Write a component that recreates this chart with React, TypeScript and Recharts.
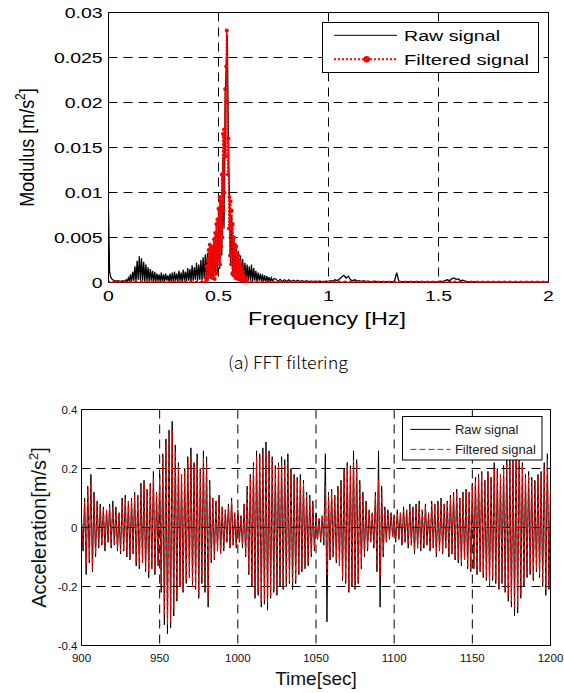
import { CartesianGrid, Legend, Line, LineChart, ReferenceArea, XAxis, YAxis } from "recharts";

// (a) FFT spectrum, modulus in 1e-3 m/s^2
// raw bins 0 .. 0.75 Hz every 0.005 Hz
const FFT_LOW_STEP = 0.005;
const rawLow = [
  8.0, 1.2, 0.6, 0.4, 0.3, 0.2, 0.15, 0.2, 0.1, 0.2,
  0.1, 0.15, 0.1, 0.2, 0.1, 0.2, 0.3, 0.1, 0.5, 0.1,
  0.9, 0.1, 1.2, 0.2, 1.8, 0.1, 2.4, 0.3, 2.9, 0.2,
  2.7, 0.2, 2.3, 0.1, 2.0, 0.2, 1.7, 0.1, 1.5, 0.2,
  1.3, 0.1, 1.2, 0.1, 1.0, 0.2, 0.9, 0.1, 1.1, 0.1,
  0.9, 0.1, 1.0, 0.2, 0.8, 0.1, 1.0, 0.1, 1.1, 0.1,
  1.2, 0.2, 1.0, 0.1, 1.3, 0.2, 1.1, 0.1, 1.4, 0.2,
  1.2, 0.1, 1.6, 0.2, 1.5, 0.1, 1.9, 0.2, 1.7, 0.3,
  2.2, 0.2, 2.0, 0.3, 2.5, 0.2, 2.8, 0.4, 3.1, 0.3,
  3.3, 0.5, 3.5, 0.4, 3.8, 0.6, 4.5, 0.8, 5.5, 1.0,
  7.0, 1.5, 9.0, 3.0, 14.0, 6.0, 20.0, 24.0, 27.5, 15.0,
  9.0, 2.0, 7.5, 1.0, 5.0, 0.8, 4.0, 0.5, 3.5, 0.4,
  3.0, 0.3, 2.6, 0.2, 2.2, 0.3, 2.0, 0.2, 1.8, 0.2,
  2.0, 0.1, 1.6, 0.2, 1.3, 0.1, 1.1, 0.2, 1.0, 0.1,
  0.9, 0.1, 0.8, 0.1, 0.7, 0.1, 0.6, 0.1, 0.5, 0.1,
  0.4,
];
// raw bins 0.76 .. 2.0 Hz every 0.01 Hz
const FFT_HIGH_START = 0.76;
const FFT_HIGH_STEP = 0.01;
const rawHigh = [
  0.4, 0.1, 0.35, 0.1, 0.3, 0.1, 0.3, 0.1, 0.25, 0.1,
  0.25, 0.1, 0.2, 0.1, 0.2, 0.1, 0.15, 0.1, 0.15, 0.1,
  0.15, 0.1, 0.1, 0.15, 0.1, 0.2, 0.15, 0.3, 0.2, 0.4,
  0.6, 0.8, 0.5, 0.7, 0.3, 0.2, 0.3, 0.15, 0.2, 0.1,
  0.2, 0.1, 0.15, 0.1, 0.1, 0.15, 0.1, 0.1, 0.1, 0.1,
  0.1, 0.1, 0.1, 0.1, 0.15, 1.1, 0.1, 0.1, 0.1, 0.1,
  0.1, 0.1, 0.05, 0.1, 0.05, 0.1, 0.05, 0.1, 0.05, 0.1,
  0.05, 0.1, 0.1, 0.05, 0.1, 0.15, 0.1, 0.2, 0.3, 0.2,
  0.4, 0.5, 0.35, 0.4, 0.2, 0.25, 0.15, 0.1, 0.1, 0.05,
  0.1, 0.05, 0.05, 0.05, 0.05, 0.05, 0.05, 0.05, 0.05, 0.05,
  0.05, 0.05, 0.05, 0.05, 0.05, 0.05, 0.05, 0.05, 0.05, 0.05,
  0.05, 0.05, 0.05, 0.05, 0.05, 0.05, 0.05, 0.05, 0.05, 0.05,
  0.05, 0.05, 0.05, 0.05, 0.05,
];
// filtered: pass band 0.44 .. 0.63 Hz every 0.0025 Hz, zero elsewhere
const BAND_START = 0.44;
const BAND_STEP = 0.0025;
const filteredBand = [
  0, 0.5, 1.8, 0.3, 2.5, 0.6, 3.6, 1.0, 4.2, 0.8,
  3.8, 1.2, 4.0, 0.5, 3.5, 1.5, 4.8, 0.4, 5.5, 2.0,
  6.5, 1.0, 7.0, 2.5, 8.2, 3.0, 9.5, 2.0, 9.0, 4.0,
  12.0, 5.0, 16.5, 8.0, 17.0, 10.0, 21.5, 14.0, 24.0, 28.0,
  20.0, 12.0, 16.0, 6.0, 9.5, 3.0, 9.0, 2.0, 8.0, 1.0,
  6.5, 0.8, 5.0, 1.5, 4.2, 0.5, 4.0, 1.2, 3.2, 0.4,
  3.0, 0.8, 2.4, 0.3, 2.0, 0.6, 1.6, 0.2, 1.2, 0.4,
  0.8, 0.1, 0.5, 0.2, 0.3, 0.1, 0,
];
const ZERO_STEP = 0.025;

const freqTicks = [0, 0.5, 1, 1.5, 2];
const freqLabels = ["0", "0.5", "1", "1.5", "2"];
const modTicks = [0, 0.005, 0.01, 0.015, 0.02, 0.025, 0.03];
const modLabels = ["0", "0.005", "0.01", "0.015", "0.02", "0.025", "0.03"];

// (b) acceleration in 0.01 m/s^2, one sample per second from 900 s
const TIME_START = 900;
const rawAcc = [
  3, -8, 10, -16, 14, -12, 18, -15, 12, -10,
  9, -7, 8, -6, 7, -8, 6, -5, 8, -7,
  9, -6, 7, -8, 5, -9, 10, -8, 11, -10,
  9, -11, 10, -9, 12, -13, 11, -14, 15, -12,
  16, -15, 13, -17, 15, -14, 19, -16, 12, -13,
  18, -22, 25, -33, 30, -36, 33, -34, 36, -30,
  28, -25, 22, -20, 18, -22, 20, -19, 24, -17,
  27, -20, 22, -21, 25, -24, 20, -19, 26, -22,
  24, -27, 16, -12, 10, -11, 9, -8, 11, -9,
  7, -8, 6, -5, 8, -7, 10, -6, 5, -7,
  6, -5, 4, -7, 8, -10, 14, -16, 18, -20,
  22, -24, 26, -23, 25, -27, 27, -26, 29, -28,
  26, -24, 24, -22, 21, -23, 22, -20, 24, -21,
  23, -20, 25, -19, 20, -21, 18, -19, 17, -16,
  18, -15, 16, -14, 12, -13, 11, -10, 9, -8,
  5, -4, 3, -5, 4, -6, 25, -32, 12, -11,
  13, -10, 11, -12, 14, -13, 16, -18, 20, -19,
  22, -22, 21, -20, 26, -21, 23, -19, 16, -14,
  12, -10, 9, -8, 6, -5, 5, -7, 12, -15,
  26, -27, 14, -10, 7, -5, 6, -4, 5, -3,
  4, -5, 6, -4, 5, -6, 7, -5, 6, -7,
  8, -6, 7, -9, 8, -7, 9, -8, 6, -7,
  8, -6, 5, -8, 9, -7, 8, -10, 9, -8,
  10, -9, 8, -7, 9, -10, 11, -9, 12, -11,
  13, -12, 10, -13, 12, -11, 13, -14, 12, -15,
  15, -14, 17, -16, 18, -15, 19, -17, 16, -18,
  19, -20, 17, -18, 22, -19, 20, -21, 18, -19,
  21, -22, 24, -25, 23, -27, 26, -30, 28, -29,
  30, -24, 22, -20, 18, -17, 19, -16, 17, -18,
  16, -15, 18, -17, 19, -20, 22, -23, 25, -21,
  14,
];
const filteredAcc = [
  2, -6, 9, -13, 13, -11, 15, -14, 11, -9,
  8, -6, 7, -6, 6, -7, 6, -5, 7, -6,
  7, -6, 6, -7, 5, -8, 9, -8, 10, -9,
  9, -10, 9, -9, 11, -12, 11, -13, 14, -12,
  15, -14, 13, -15, 14, -14, 17, -15, 12, -13,
  17, -20, 24, -30, 28, -33, 31, -32, 33, -28,
  26, -24, 21, -20, 18, -21, 19, -18, 22, -17,
  24, -20, 21, -20, 23, -23, 20, -18, 24, -21,
  22, -24, 15, -11, 10, -10, 9, -8, 10, -9,
  7, -7, 6, -5, 7, -7, 9, -6, 5, -6,
  6, -5, 4, -6, 8, -9, 13, -15, 17, -19,
  21, -23, 24, -22, 24, -25, 25, -25, 26, -26,
  25, -23, 23, -21, 20, -22, 21, -19, 22, -20,
  21, -19, 22, -18, 19, -19, 17, -18, 16, -15,
  16, -14, 15, -13, 11, -12, 10, -9, 8, -7,
  4, -4, 3, -4, 4, -5, 14, -16, 11, -10,
  12, -10, 11, -11, 13, -13, 15, -17, 19, -18,
  21, -21, 20, -19, 23, -20, 22, -18, 15, -13,
  11, -9, 8, -7, 6, -5, 5, -6, 11, -13,
  16, -17, 12, -9, 6, -5, 5, -4, 5, -3,
  4, -4, 5, -4, 5, -5, 6, -5, 6, -6,
  7, -6, 7, -8, 7, -7, 8, -7, 6, -6,
  7, -6, 5, -7, 8, -7, 8, -9, 8, -8,
  9, -8, 8, -7, 9, -9, 10, -9, 11, -10,
  12, -11, 10, -12, 11, -11, 12, -13, 12, -14,
  14, -14, 16, -15, 17, -15, 18, -16, 16, -17,
  18, -19, 17, -17, 20, -18, 19, -20, 18, -18,
  20, -21, 22, -23, 22, -25, 24, -27, 27, -27,
  26, -23, 21, -19, 17, -16, 18, -15, 16, -17,
  15, -14, 17, -16, 18, -19, 20, -21, 23, -20,
  13,
];

const timeTicks = [900, 950, 1000, 1050, 1100, 1150, 1200];
const accTicks = [-0.4, -0.2, 0, 0.2, 0.4];
const accLabels = ["-0.4", "-0.2", "0", "0.2", "0.4"];

const seriesNames = ["Raw signal", "Filtered signal"];

// tables for recharts
const r4 = (v: number) => Math.round(v * 10000) / 10000;
const rawFft = [
  ...rawLow.map((v, i) => ({ f: r4(i * FFT_LOW_STEP), m: v / 1000 })),
  ...rawHigh.map((v, i) => ({ f: r4(FFT_HIGH_START + i * FFT_HIGH_STEP), m: v / 1000 })),
];
const zeroBins = (from: number, to: number) => {
  const out: { f: number; m: number }[] = [];
  for (let k = 0; from + k * ZERO_STEP <= to + 1e-9; k++) out.push({ f: r4(from + k * ZERO_STEP), m: 0 });
  return out;
};
const filteredFft = [
  ...zeroBins(0, 0.425),
  ...filteredBand.map((v, i) => ({ f: r4(BAND_START + i * BAND_STEP), m: v / 1000 })),
  ...zeroBins(0.65, 2),
];
const accData = rawAcc.map((v, i) => ({ t: TIME_START + i, raw: v / 100, filt: filteredAcc[i] / 100 }));

const SANS = "'Liberation Sans', Arial, Helvetica, sans-serif";

// plot boxes (chart coordinates)
const A = { left: 108.5, top: 12.5, w: 440, h: 270, H: 340 };
const B = { left: 81.5, top: 29.5, w: 469, h: 236, H: 313 };

function FreqTick(props: any) {
  const i = freqTicks.indexOf(props.payload.value);
  return (
    <text transform={`translate(${props.x},${A.top + A.h + 18.3}) scale(1.3,1)`} textAnchor="middle" fontFamily={SANS} fontSize={15} fill="#000">
      {freqLabels[i]}
    </text>
  );
}

function ModTick(props: any) {
  const i = modTicks.indexOf(props.payload.value);
  return (
    <text transform={`translate(${A.left - 5.8},${props.y + 5.3}) scale(1.3,1)`} textAnchor="end" fontFamily={SANS} fontSize={15} fill="#000">
      {modLabels[i]}
    </text>
  );
}

function TimeTick(props: any) {
  return (
    <text x={props.x} y={B.top + B.h + 16.5} textAnchor="middle" fontFamily={SANS} fontSize={11.5} fill="#111">
      {props.payload.value}
    </text>
  );
}

function AccTick(props: any) {
  const i = accTicks.indexOf(props.payload.value);
  return (
    <text x={B.left - 4} y={props.y + 4} textAnchor="end" fontFamily={SANS} fontSize={11.5} fill="#111">
      {accLabels[i]}
    </text>
  );
}

function FreqTitle() {
  return (
    <text x={327} y={325} textAnchor="middle" fontFamily={SANS} fontSize={18} textLength={158} lengthAdjust="spacingAndGlyphs" fill="#000">
      Frequency [Hz]
    </text>
  );
}

function ModTitle() {
  return (
    <text transform="translate(33.5,147.5) scale(1.15,1) rotate(-90)" textAnchor="middle" fontFamily={SANS} fontSize={18} fill="#000">
      Modulus [m/s<tspan dy={-7} fontSize={12}>2</tspan><tspan dy={7}>]</tspan>
    </text>
  );
}

function TimeTitle() {
  return (
    <text x={316} y={305} textAnchor="middle" fontFamily={SANS} fontSize={19} fill="#111">
      Time[sec]
    </text>
  );
}

function AccTitle() {
  return (
    <text transform="translate(46,147.5) rotate(-90)" textAnchor="middle" fontFamily={SANS} fontSize={20} fill="#111">
      Acceleration[m/s<tspan dy={-8} fontSize={13}>2</tspan><tspan dy={8}>]</tspan>
    </text>
  );
}

function FftLegend() {
  return (
    <svg width={217} height={51} style={{ display: "block" }}>
      <rect x={0.5} y={0.5} width={216} height={50} fill="#fff" stroke="#000" />
      <line x1={12} x2={75} y1={13.3} y2={13.3} stroke="#000" />
      <text x={82} y={18.9} fontFamily={SANS} fontSize={15.5} textLength={96} lengthAdjust="spacingAndGlyphs">{seriesNames[0]}</text>
      <line x1={12} x2={75} y1={37.3} y2={37.3} stroke="#f00" strokeWidth={2} strokeDasharray="2 2" />
      <circle cx={44.7} cy={37.3} r={3.3} fill="#f00" />
      <text x={82} y={42.9} fontFamily={SANS} fontSize={15.5} textLength={125} lengthAdjust="spacingAndGlyphs">{seriesNames[1]}</text>
    </svg>
  );
}

function AccLegend() {
  return (
    <svg width={141} height={45} style={{ display: "block" }}>
      <rect x={0.5} y={0.5} width={139.5} height={43.5} fill="#fff" stroke="#000" />
      <line x1={8.4} x2={48.4} y1={13.4} y2={13.4} stroke="#000" />
      <text x={52.9} y={18} fontFamily={SANS} fontSize={13} fill="#222">{seriesNames[0]}</text>
      <line x1={8.4} x2={48.4} y1={33.4} y2={33.4} stroke="#f00" strokeDasharray="6 3" />
      <text x={52.9} y={38} fontFamily={SANS} fontSize={13} fill="#222">{seriesNames[1]}</text>
    </svg>
  );
}

function FftChart() {
  return (
    <LineChart width={564} height={A.H} margin={{ top: A.top, right: 564 - A.left - A.w, bottom: 0, left: 0 }}>
      <CartesianGrid stroke="#000" strokeDasharray="9 6" />
      <XAxis dataKey="f" type="number" domain={[0, 2]} ticks={freqTicks} interval={0} height={A.H - A.top - A.h} tickSize={0} tickLine={false} axisLine={false} tick={FreqTick} label={<FreqTitle />} allowDataOverflow />
      <YAxis type="number" domain={[0, 0.03]} ticks={modTicks} interval={0} width={A.left} tickSize={0} tickLine={false} axisLine={false} tick={ModTick} label={<ModTitle />} allowDataOverflow />
      <Line data={rawFft} dataKey="m" name={seriesNames[0]} stroke="#000" strokeWidth={1.3} dot={false} isAnimationActive={false} />
      <Line data={filteredFft} dataKey="m" name={seriesNames[1]} stroke="#f00" strokeWidth={1.8} strokeDasharray="2 1.5" dot={{ r: 2, fill: "#f00", stroke: "none" }} isAnimationActive={false} />
      <ReferenceArea x1={0} x2={2} y1={0} y2={0.03} fill="none" stroke="#000" strokeWidth={1} />
      <Legend layout="vertical" align="center" verticalAlign="middle" content={<FftLegend />} wrapperStyle={{ left: 322, top: 21.7, width: 217, height: 51 }} />
    </LineChart>
  );
}

function AccChart() {
  return (
    <LineChart width={564} height={B.H} data={accData} margin={{ top: B.top, right: 564 - B.left - B.w, bottom: 0, left: 0 }}>
      <CartesianGrid stroke="#000" strokeDasharray="9 6" />
      <XAxis dataKey="t" type="number" domain={[900, 1200]} ticks={timeTicks} interval={0} height={B.H - B.top - B.h} tickSize={0} tickLine={false} axisLine={false} tick={TimeTick} label={<TimeTitle />} allowDataOverflow />
      <YAxis type="number" domain={[-0.4, 0.4]} ticks={accTicks} interval={0} width={B.left} tickSize={0} tickLine={false} axisLine={false} tick={AccTick} label={<AccTitle />} allowDataOverflow />
      <Line dataKey="raw" name={seriesNames[0]} stroke="#000" strokeWidth={1} dot={false} isAnimationActive={false} />
      <Line dataKey="filt" name={seriesNames[1]} stroke="#f00" strokeWidth={1} strokeDasharray="5 3" dot={false} isAnimationActive={false} />
      <ReferenceArea x1={900} x2={1200} y1={-0.4} y2={0.4} fill="none" stroke="#000" strokeWidth={1} />
      <Legend layout="vertical" align="center" verticalAlign="middle" content={<AccLegend />} wrapperStyle={{ left: 401.6, top: 35.6, width: 141, height: 45 }} />
    </LineChart>
  );
}

export default function App() {
  return (
    <div style={{ position: "absolute", left: 0, top: 0, width: 564, height: 693, background: "#fff" }}>
      <div style={{ position: "absolute", left: 0, top: 0 }}>
        <FftChart />
      </div>
      <svg style={{ position: "absolute", left: 0, top: 340 }} width={564} height={40}>
        <text x={228} y={29.3} fontFamily="'Noto Sans CJK KR', 'Noto Sans', sans-serif" fontWeight={300} fontSize={17} textLength={120} lengthAdjust="spacingAndGlyphs" fill="#000">
          (a) FFT filtering
        </text>
      </svg>
      <div style={{ position: "absolute", left: 0, top: 380 }}>
        <AccChart />
      </div>
    </div>
  );
}
